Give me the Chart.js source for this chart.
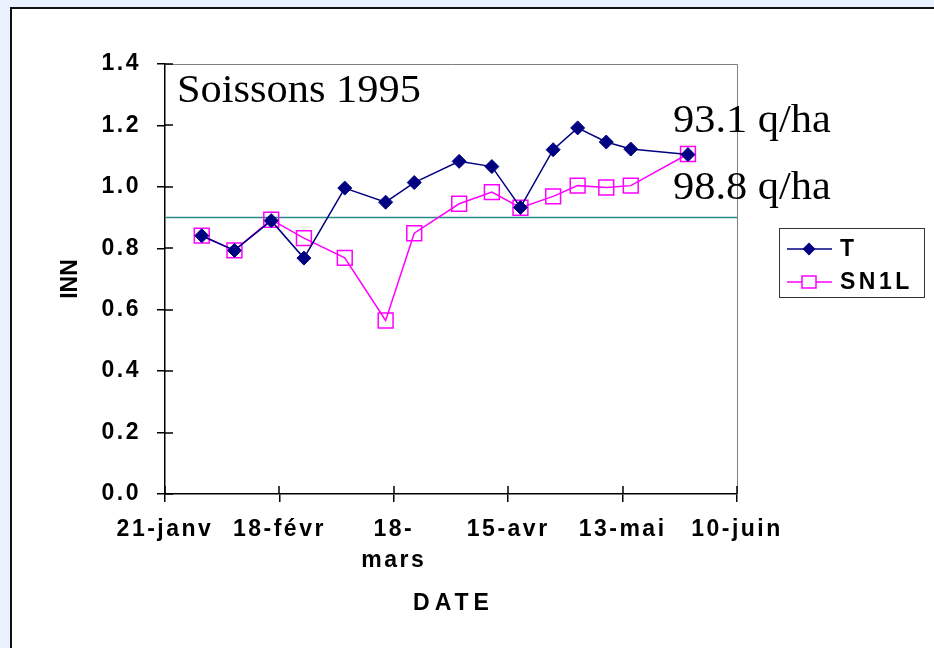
<!DOCTYPE html>
<html><head><meta charset="utf-8">
<script src="https://cdn.jsdelivr.net/npm/chart.js@4.4.0/dist/chart.umd.min.js"></script>
<style>
html,body{margin:0;padding:0;background:#e8f1fd;width:934px;height:648px;overflow:hidden}
#panel{position:absolute;left:10px;top:7px;width:940px;height:660px;background:#fff;border-left:2px solid #111;border-top:2px solid #111;}
canvas{position:absolute;left:0;top:0}
</style></head><body>
<div id="panel"></div>
<canvas id="c" width="934" height="648"></canvas>
<script>
// ---- data ----
const dayOfYear = [30, 38, 47, 55, 65, 75, 82, 93, 101, 108, 116, 122, 129, 135, 149];
const seriesT = [0.841, 0.793, 0.890, 0.768, 0.996, 0.950, 1.014, 1.083, 1.066, 0.933, 1.121, 1.192, 1.146, 1.123, 1.105];
const seriesSN1L = [0.841, 0.793, 0.893, 0.833, 0.769, 0.565, 0.849, 0.945, 0.983, 0.932, 0.969, 1.004, 0.998, 1.004, 1.107];
const thresholdINN = 0.9;
const seriesNames = ["T", "SN1L"];
const xTickValues = [21, 49, 77, 105, 133, 161];
const xTickLabels = ["21-janv", "18-févr", ["18-", "mars"], "15-avr", "13-mai", "10-juin"];
const yMin = 0, yMax = 1.4, yStep = 0.2;
const chartTitle = "Soissons 1995";
const yieldLabels = ["93.1 q/ha", "98.8 q/ha"];
const xTitle = "DATE", yTitle = "INN";

const SANS = '"Liberation Sans", Arial, sans-serif';
const SERIF = '"Liberation Serif", "Times New Roman", serif';
const NAVY = '#000080', MAG = '#ff00ff', TEAL = '#2a8a8a';
const SPACING = '2.5px';
const FS = 23;

const toPts = ys => dayOfYear.map((d, i) => ({x: d, y: ys[i]}));

const decor = {
  id: 'decor',
  beforeInit(chart) { chart.ctx.letterSpacing = SPACING; },
  beforeDraw(chart) { chart.ctx.letterSpacing = SPACING; },
  afterDraw(chart) {
    const ctx = chart.ctx, ca = chart.chartArea;
    ctx.save();
    ctx.letterSpacing = '0px';
    // plot frame top/right
    ctx.strokeStyle = '#808080'; ctx.lineWidth = 1;
    ctx.beginPath();
    ctx.moveTo(ca.left, ca.top + 0.5); ctx.lineTo(ca.right + 0.5, ca.top + 0.5);
    ctx.lineTo(ca.right + 0.5, ca.bottom);
    ctx.stroke();
    // inner tick stubs
    ctx.strokeStyle = '#000'; ctx.lineWidth = 1.5;
    const ys = chart.scales.y, xs = chart.scales.x;
    ctx.beginPath();
    ys.ticks.forEach(t => { const p = Math.round(ys.getPixelForValue(t.value)); ctx.moveTo(ca.left, p); ctx.lineTo(ca.left + 8, p); });
    xs.ticks.forEach(t => { const p = Math.round(xs.getPixelForValue(t.value)); ctx.moveTo(p, ca.bottom); ctx.lineTo(p, ca.bottom - 8); });
    ctx.stroke();
    // serif annotations
    ctx.fillStyle = '#000';
    ctx.textBaseline = 'alphabetic'; ctx.textAlign = 'left';
    const stretched = (txt, x, y, size, sx) => {
      ctx.save(); ctx.font = size + 'px ' + SERIF; ctx.translate(x, y); ctx.scale(sx, 1); ctx.fillText(txt, 0, 0); ctx.restore();
    };
    stretched(chartTitle, 177, 102, 40, 1.06);
    stretched(yieldLabels[0], 673, 132, 40, 1.06);
    stretched(yieldLabels[1], 673, 199, 40, 1.06);
    // axis titles
    ctx.font = 'bold ' + FS + 'px ' + SANS;
    ctx.textAlign = 'center'; ctx.textBaseline = 'middle';
    ctx.save(); ctx.translate(71, (ca.top + ca.bottom) / 2); ctx.rotate(-Math.PI / 2); ctx.fillText(yTitle, 0, 0); ctx.restore();
    ctx.letterSpacing = '5px';
    ctx.fillText(xTitle, (ca.left + ca.right) / 2 + 2.5, 604);
    // legend
    ctx.letterSpacing = '0px';
    ctx.strokeStyle = '#333'; ctx.lineWidth = 1;
    ctx.strokeRect(779.5, 228.5, 145, 69);
    const rows = [249, 282];
    chart.data.datasets.slice(0, 2).forEach((ds, i) => {
      const y = rows[i];
      ctx.strokeStyle = ds.borderColor; ctx.lineWidth = 1.5;
      ctx.beginPath(); ctx.moveTo(787, y); ctx.lineTo(832, y); ctx.stroke();
      if (ds.pointStyle === 'rectRot') {
        ctx.fillStyle = ds.pointBackgroundColor;
        ctx.beginPath(); ctx.moveTo(809, y - 6.5); ctx.lineTo(815.5, y); ctx.lineTo(809, y + 6.5); ctx.lineTo(802.5, y); ctx.closePath(); ctx.fill();
      } else {
        ctx.fillStyle = '#fff';
        ctx.lineWidth = 1.5;
        ctx.fillRect(802, y - 6, 14, 12);
        ctx.strokeRect(802, y - 6, 14, 12);
      }
      ctx.fillStyle = '#000';
      ctx.font = 'bold ' + FS + 'px ' + SANS;
      ctx.textAlign = 'left'; ctx.textBaseline = 'middle';
      ctx.letterSpacing = '3.5px';
      ctx.fillText(ds.label, 840, y + 1);
      ctx.letterSpacing = '0px';
    });
    ctx.restore();
  }
};

new Chart(document.getElementById('c'), {
  type: 'line',
  data: {
    datasets: [
      {label: seriesNames[0], data: toPts(seriesT), borderColor: NAVY, backgroundColor: NAVY, borderWidth: 1.5,
       pointStyle: 'rectRot', pointRadius: 7, pointBackgroundColor: NAVY, pointBorderColor: NAVY, pointBorderWidth: 1, tension: 0},
      {label: seriesNames[1], data: toPts(seriesSN1L), borderColor: MAG, backgroundColor: 'rgba(0,0,0,0)', borderWidth: 1.5,
       pointStyle: 'rect', pointRadius: 10.5, pointBackgroundColor: 'rgba(0,0,0,0)', pointBorderColor: MAG, pointBorderWidth: 1.5, tension: 0},
      {label: 'ref', data: [{x: xTickValues[0], y: thresholdINN}, {x: xTickValues[xTickValues.length - 1], y: thresholdINN}],
       borderColor: TEAL, borderWidth: 1.5, pointRadius: 0}
    ]
  },
  options: {
    responsive: false, animation: false, devicePixelRatio: 1, events: [],
    layout: {padding: {left: 0, top: 64, right: 197, bottom: 0}},
    plugins: {legend: {display: false}, tooltip: {enabled: false}},
    scales: {
      x: {
        type: 'linear', min: xTickValues[0], max: xTickValues[xTickValues.length - 1],
        afterBuildTicks(s) { s.ticks = xTickValues.map(v => ({value: v})); },
        afterFit(s) { s.height = 154; },
        ticks: {callback: (v) => xTickLabels[xTickValues.indexOf(v)], autoSkip: false, maxRotation: 0, minRotation: 0,
                color: '#000', font: {family: SANS, size: FS, weight: 'bold', lineHeight: 1.35}, padding: 12},
        grid: {drawOnChartArea: false, color: '#000', lineWidth: 1.5, tickLength: 8},
        border: {color: '#000', width: 1.5}
      },
      y: {
        min: yMin, max: yMax,
        afterFit(s) { s.width = 165; },
        ticks: {stepSize: yStep, callback: v => v.toFixed(1), color: '#000',
                font: {family: SANS, size: FS, weight: 'bold'}, padding: 16},
        grid: {drawOnChartArea: false, color: '#000', lineWidth: 1.5, tickLength: 8},
        border: {color: '#000', width: 1.5}
      }
    }
  },
  plugins: [decor]
});
</script>
</body></html>
